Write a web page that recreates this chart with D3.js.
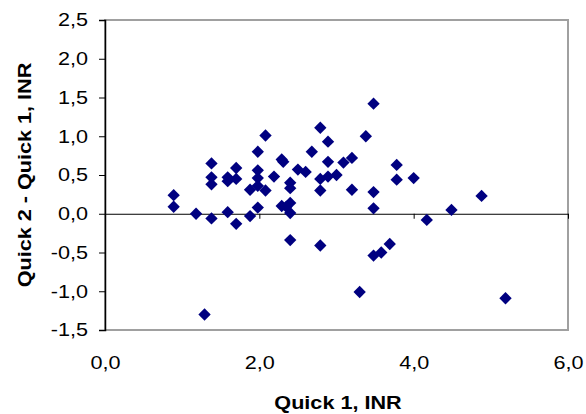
<!DOCTYPE html>
<meta charset="utf-8">
<style>
    body {
        margin: 0;
        background: #fff;
    }
    .tick text {
        font: 18px "Liberation Sans", Arial, sans-serif;
        fill: #000;
    }
    .axis-title {
        font: bold 18px "Liberation Sans", Arial, sans-serif;
        fill: #000;
    }
</style>
<body>
<script src="https://d3js.org/d3.v7.min.js"></script>
<script>
    // Quick 1 INR (x) and difference Quick 2 - Quick 1 (y)
    var quick1 = [0.89, 0.89, 1.18, 1.38, 1.38, 1.38, 1.38, 1.59, 1.59, 1.59,
        1.70, 1.70, 1.70, 1.88, 1.88, 1.98, 1.98, 1.98, 1.98, 1.98,
        2.08, 2.08, 2.19, 2.29, 2.31, 2.29, 2.40, 2.40, 2.40, 2.40,
        2.35, 2.50, 2.60, 2.68, 2.79, 2.79, 2.79, 2.89, 2.89, 2.89,
        3.00, 3.09, 3.20, 3.20, 3.38, 3.48, 3.48, 3.48, 3.78, 3.78,
        4.00, 4.17, 4.49, 4.88, 5.19, 2.79, 3.30, 3.48, 3.58, 3.69,
        1.29, 2.40];
    var diff = [0.24, 0.09, 0.00, 0.65, 0.47, 0.38, -0.06, 0.47, 0.42, 0.02,
        0.59, 0.45, -0.13, 0.31, -0.03, 0.80, 0.56, 0.46, 0.36, 0.08,
        1.01, 0.30, 0.48, 0.70, 0.67, 0.10, 0.40, 0.33, 0.14, 0.01,
        0.09, 0.57, 0.54, 0.80, 1.11, 0.45, 0.30, 0.93, 0.67, 0.48,
        0.50, 0.66, 0.72, 0.31, 1.00, 1.42, 0.28, 0.07, 0.63, 0.44,
        0.46, -0.08, 0.05, 0.23, -1.09, -0.41, -1.01, -0.54, -0.50, -0.39,
        -1.30, -0.34];
    var xTicks = [0, 2, 4, 6];
    var yTicks = [-1.5, -1, -0.5, 0, 0.5, 1, 1.5, 2, 2.5];

    var W = 586, H = 414;
    var plotL = 105, plotR = 568, plotT = 20, plotB = 330;

    var fmt = d3.formatLocale({
        decimal: ",", thousands: ".", grouping: [3], currency: ["", ""], minus: "-"
    }).format(".1f");

    var x = d3.scaleLinear().domain([0, 6]).range([plotL, plotR]);
    var y = d3.scaleLinear().domain([-1.5, 2.5]).range([plotB, plotT]);

    var svg = d3.select("body").append("svg")
        .attr("width", W)
        .attr("height", H);

    // plot frame
    svg.append("rect")
        .attr("x", plotL)
        .attr("y", plotT)
        .attr("width", plotR - plotL)
        .attr("height", plotB - plotT)
        .attr("fill", "none")
        .attr("stroke", "#a0a0a0")
        .attr("stroke-width", 2);

    // y axis
    var yAxis = svg.append("g")
        .attr("transform", "translate(" + plotL + ",0)")
        .call(d3.axisLeft(y).tickValues(yTicks).tickSize(6).tickPadding(11).tickFormat(fmt));
    yAxis.select(".domain").attr("stroke", "#000").attr("stroke-width", 1.5);
    yAxis.selectAll(".tick line").attr("stroke", "#000");

    // x axis line at zero
    var xAxis = svg.append("g")
        .attr("transform", "translate(0," + y(0) + ")")
        .call(d3.axisBottom(x).tickValues(xTicks).tickSize(5).tickSizeOuter(0).tickFormat(""));
    xAxis.select(".domain").attr("stroke", "#000");
    xAxis.selectAll(".tick line").attr("stroke", "#000");

    // x tick labels at the bottom
    var xLabels = svg.append("g")
        .attr("transform", "translate(0," + plotB + ")")
        .call(d3.axisBottom(x).tickValues(xTicks).tickSize(0).tickPadding(26).tickFormat(fmt));
    xLabels.select(".domain").remove();

    // points
    var diamond = d3.symbol().type(d3.symbolSquare).size(76);
    svg.append("g")
        .selectAll("path")
        .data(quick1.map(function(d, i) { return [d, diff[i]]; }))
        .enter().append("path")
        .attr("d", diamond)
        .attr("transform", function(d) {
            return "translate(" + x(d[0]) + "," + y(d[1]) + ") rotate(45)";
        })
        .attr("fill", "#000080");

    svg.append("text")
        .attr("class", "axis-title")
        .attr("x", 338)
        .attr("y", 409)
        .attr("text-anchor", "middle")
        .text("Quick 1, INR");

    svg.append("text")
        .attr("class", "axis-title")
        .attr("transform", "translate(31,175) rotate(-90)")
        .attr("text-anchor", "middle")
        .text("Quick 2 - Quick 1, INR");

    // the original text is drawn wider than Liberation Sans
    svg.selectAll("text").each(function() {
        var len = this.getComputedTextLength();
        d3.select(this)
            .attr("textLength", len * 1.2)
            .attr("lengthAdjust", "spacingAndGlyphs");
    });
</script>
</body>
